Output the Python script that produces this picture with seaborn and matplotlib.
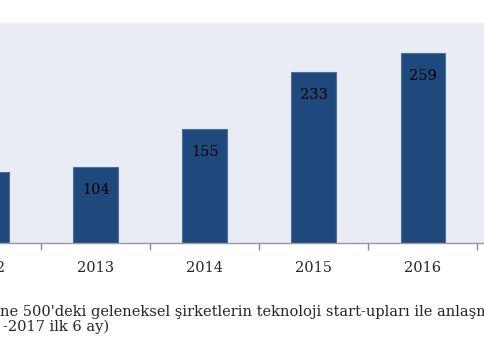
import matplotlib
matplotlib.use("Agg")
import matplotlib.pyplot as plt
import seaborn as sns
import pandas as pd

years = ["2012", "2013", "2014", "2015", "2016"]
deals = [97, 104, 155, 233, 259]
caption_line1 = "ne 500'deki geleneksel şirketlerin teknoloji start-upları ile anlaşmaları"
caption_line2 = "-2017 ilk 6 ay)"

df = pd.DataFrame({"year": years, "deals": deals})

sns.set_style("white")
plt.rcParams["font.family"] = ["DejaVu Serif"]

fig = plt.figure(figsize=(4.85, 3.6), dpi=100)
# axes extend beyond the left edge of the (cropped) figure
left_px = -68.0
ax = fig.add_axes([left_px / 485, 1 - 243 / 360, (485 - left_px) / 485, (243 - 23) / 360])
ax.set_facecolor("#e9ecf4")

sns.barplot(data=df, x="year", y="deals", color="#1f497d", width=0.41,
            edgecolor="#4f6f98", linewidth=0.8, saturation=1, ax=ax)

for p, v in zip(ax.patches, deals):
    ax.annotate(str(v), (p.get_x() + p.get_width() / 2, p.get_height()),
                xytext=(0, -16.5), textcoords="offset points",
                ha="center", va="center", fontsize=10.5, color="black")

ax.set_xlabel("")
ax.set_ylabel("")
ax.set_yticks([])
ax.set_xticks(range(len(years)))
ax.set_xticklabels(years, fontsize=10.5)
ax.tick_params(axis="x", which="major", bottom=True, length=0, pad=13)
ax.set_xticks([i + 0.5 for i in range(len(years))], minor=True)
ax.tick_params(axis="x", which="minor", bottom=True, length=5, color="#8c8c8c",
               width=1, direction="out")
ax.set_xlim(-0.5, 4.569)
ax.set_ylim(0, 300)
for s in ["top", "right", "left"]:
    ax.spines[s].set_visible(False)
ax.spines["bottom"].set_color("#9a9a9a")
ax.spines["bottom"].set_linewidth(1)

fig.text(0 / 485, 1 - 312 / 360, caption_line1, ha="left", va="center", fontsize=10.5)
fig.text(3 / 485, 1 - 327 / 360, caption_line2, ha="left", va="center", fontsize=10.5)

fig.savefig("out.png", dpi=100, facecolor="white")
